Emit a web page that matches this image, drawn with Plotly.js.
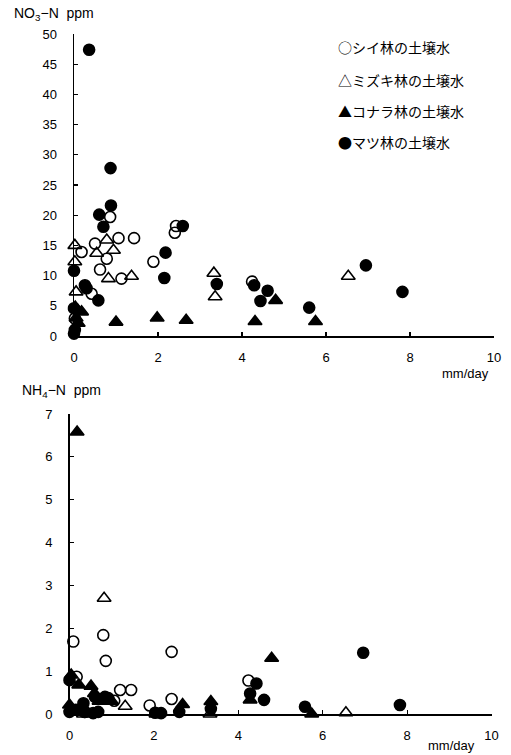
<!DOCTYPE html>
<html>
<head>
<meta charset="utf-8">
<script src="https://cdn.plot.ly/plotly-3.0.1.min.js"></script>
<style>
  html, body { margin: 0; padding: 0; background: #fff; }
  #chart { width: 511px; height: 755px; }
</style>
</head>
<body>
<div id="chart"></div>
<script>
// Series names (legend)
const seriesNames = ["シイ林の土壌水", "ミズキ林の土壌水", "コナラ林の土壌水", "マツ林の土壌水"];

// ---- NO3-N (upper panel) ----
const no3ShiiX  = [0.18, 0.42, 0.02, 0.50, 0.86, 1.06, 1.43, 0.78, 0.62, 1.13, 1.89, 2.43, 2.40, 4.24];
const no3ShiiY  = [13.9, 7.0, 2.9, 15.3, 19.7, 16.2, 16.2, 12.8, 11.0, 9.5, 12.3, 18.2, 17.1, 9.0];
const no3MizukiX = [0.02, 0.02, 0.05, 0.78, 0.54, 0.94, 0.82, 1.37, 3.33, 3.36, 6.53];
const no3MizukiY = [15.0, 12.3, 7.3, 15.9, 13.7, 14.2, 9.5, 9.9, 10.4, 6.5, 9.9];
const no3KonaraX = [0.03, 0.18, 0.10, 0.05, 1.00, 1.98, 2.67, 4.31, 4.80, 5.75];
const no3KonaraY = [4.8, 4.0, 2.1, 3.0, 2.3, 3.0, 2.6, 2.4, 5.9, 2.4];
const no3MatsuX = [0.36, 0.87, 0.88, 0.60, 0.70, 2.59, 2.18, 2.15, 3.40, 0.00, 0.26, 0.30, 0.58, 0.00, 0.02, 0.00, 4.29, 4.61, 4.44, 5.60, 6.95, 7.82];
const no3MatsuY = [47.4, 27.8, 21.6, 20.1, 18.1, 18.2, 13.8, 9.6, 8.6, 10.8, 8.4, 7.9, 5.9, 0.4, 1.0, 4.6, 8.4, 7.5, 5.8, 4.7, 11.7, 7.3];

// ---- NH4-N (lower panel) ----
const nh4ShiiX  = [0.09, 0.80, 0.86, 2.42, 0.17, 1.20, 1.46, 1.06, 1.90, 2.42, 4.24, 0.35];
const nh4ShiiY  = [1.69, 1.84, 1.24, 1.45, 0.87, 0.56, 0.56, 0.31, 0.20, 0.35, 0.78, 0.05];
const nh4MizukiX = [0.82, 1.32, 3.33, 6.55, 0.33];
const nh4MizukiY = [2.70, 0.18, 0.00, 0.03, 0.00];
const nh4KonaraX = [0.18, 0.04, 0.22, 0.51, 0.59, 0.00, 1.00, 0.70, 2.68, 3.35, 4.28, 4.79, 5.74, 2.05];
const nh4KonaraY = [6.58, 0.91, 0.68, 0.65, 0.48, 0.21, 0.30, 0.30, 0.22, 0.29, 0.33, 1.30, 0.00, 0.00];
const nh4MatsuX = [0.00, 0.60, 0.84, 0.92, 0.33, 0.37, 0.00, 0.56, 0.68, 0.15, 2.03, 2.17, 2.60, 3.35, 4.43, 4.28, 4.61, 5.58, 6.96, 7.83];
const nh4MatsuY = [0.79, 0.40, 0.40, 0.37, 0.25, 0.05, 0.05, 0.02, 0.05, 0.10, 0.03, 0.02, 0.05, 0.12, 0.71, 0.48, 0.33, 0.17, 1.43, 0.21];

// Axis tick settings
const xTickVals = [0, 2, 4, 6, 8, 10];
const no3TickVals = [0, 5, 10, 15, 20, 25, 30, 35, 40, 45, 50];
const nh4TickVals = [0, 1, 2, 3, 4, 5, 6, 7];

const symbols = ["circle-open", "triangle-up-open", "triangle-up", "circle"];
const sizes = [11, 12, 12, 11];

function mk(x, y, i, xa, ya) {
  return {
    type: "scatter", mode: "markers", x: x, y: y, name: seriesNames[i],
    xaxis: xa, yaxis: ya, cliponaxis: false, showlegend: false,
    marker: { symbol: symbols[i], size: sizes[i], color: "#000", line: { color: "#000", width: 1.6 } },
    hoverinfo: "x+y"
  };
}

const data = [
  mk(no3ShiiX, no3ShiiY, 0, "x", "y"),
  mk(no3MizukiX, no3MizukiY, 1, "x", "y"),
  mk(no3KonaraX, no3KonaraY, 2, "x", "y"),
  mk(no3MatsuX, no3MatsuY, 3, "x", "y"),
  mk(nh4ShiiX, nh4ShiiY, 0, "x2", "y2"),
  mk(nh4MizukiX, nh4MizukiY, 1, "x2", "y2"),
  mk(nh4KonaraX, nh4KonaraY, 2, "x2", "y2"),
  mk(nh4MatsuX, nh4MatsuY, 3, "x2", "y2")
];

const tickFont = { family: "Liberation Sans, Arial, sans-serif", size: 13, color: "#000" };
const axBase = {
  showline: true, linecolor: "#000", linewidth: 1.5, mirror: false,
  showgrid: false, zeroline: false,
  ticks: "inside", ticklen: 4, tickwidth: 1.2, tickcolor: "#000",
  tickfont: tickFont, fixedrange: true
};

const W = 511, H = 755;
const legendGlyphs = ["○", "△", "▲", "●"];
const legendYpx = [47, 80, 111, 142];

const annotations = [
  { text: "NO<sub>3</sub>−N  ppm", xref: "paper", yref: "paper", x: 12 / W, y: 1 - 14 / H,
    xanchor: "left", yanchor: "middle", showarrow: false,
    font: { family: "Liberation Sans, Arial, sans-serif", size: 14, color: "#000" } },
  { text: "NH<sub>4</sub>−N  ppm", xref: "paper", yref: "paper", x: 20 / W, y: 1 - 391 / H,
    xanchor: "left", yanchor: "middle", showarrow: false,
    font: { family: "Liberation Sans, Arial, sans-serif", size: 14, color: "#000" } },
  { text: "mm/day", xref: "paper", yref: "paper", x: 491 / W, y: 1 - 373 / H,
    xanchor: "right", yanchor: "middle", showarrow: false,
    font: { family: "Liberation Sans, Arial, sans-serif", size: 13, color: "#000" } },
  { text: "mm/day", xref: "paper", yref: "paper", x: 477 / W, y: 1 - 745 / H,
    xanchor: "right", yanchor: "middle", showarrow: false,
    font: { family: "Liberation Sans, Arial, sans-serif", size: 13, color: "#000" } }
];
seriesNames.forEach((n, i) => {
  annotations.push({
    text: legendGlyphs[i] + n, xref: "paper", yref: "paper",
    x: 336 / W, y: 1 - legendYpx[i] / H, xanchor: "left", yanchor: "middle",
    showarrow: false,
    font: { family: "Noto Sans CJK JP, sans-serif", size: 14, color: "#000" }
  });
});

const layout = {
  width: W, height: H,
  margin: { l: 0, r: 0, t: 0, b: 0 },
  paper_bgcolor: "#fff", plot_bgcolor: "#fff",
  showlegend: false,
  xaxis: Object.assign({}, axBase, {
    domain: [74 / W, 494 / W], range: [0, 10], tickvals: xTickVals, ticklabelstandoff: 9, anchor: "y"
  }),
  yaxis: Object.assign({}, axBase, {
    domain: [1 - 336 / H, 1 - 34 / H], range: [0, 50], tickvals: no3TickVals, ticklabelstandoff: 13, anchor: "x"
  }),
  xaxis2: Object.assign({}, axBase, {
    domain: [69.5 / W, 491.5 / W], range: [0, 10], tickvals: xTickVals, ticklabelstandoff: 9, anchor: "y2"
  }),
  yaxis2: Object.assign({}, axBase, {
    domain: [1 - 714 / H, 1 - 414 / H], range: [0, 7], tickvals: nh4TickVals, ticklabelstandoff: 13, anchor: "x2"
  }),
  annotations: annotations
};

Plotly.newPlot("chart", data, layout, { staticPlot: true, displayModeBar: false });
</script>
</body>
</html>
